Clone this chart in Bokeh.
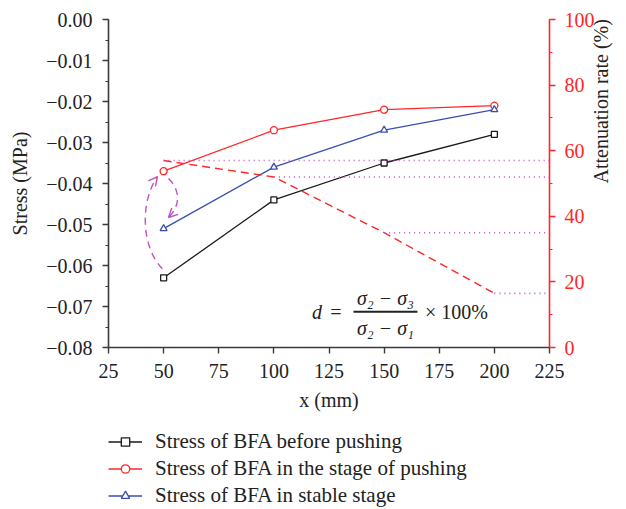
import math
from bokeh.plotting import figure
from bokeh.layouts import column
from bokeh.models import (Range1d, LinearAxis, SingleIntervalTicker, CustomJSTickFormatter,
                          Legend, LegendItem, Label, Arrow, OpenHead, BoxAnnotation)
from bokeh.embed import file_html
from bokeh.resources import INLINE

# ---- data ----
x_mm = [50, 100, 150, 200]
stress_before = [-0.063, -0.044, -0.035, -0.028]
stress_pushing = [-0.037, -0.027, -0.022, -0.021]
stress_stable = [-0.051, -0.036, -0.027, -0.022]
attenuation = [57.0, 52.0, 35.0, 16.5]
series_labels = ["Stress of BFA before pushing",
                 "Stress of BFA in the stage of pushing",
                 "Stress of BFA in stable stage"]

FONT = "Liberation Serif"
FS = "20px"
BLACK = "#1a1a1a"
RED = "#ff2626"
BLUE = "#3b4fb0"
MAG = "#c24fc2"
AXC = "#3a3a3a"

X0, X1 = 25, 225
p = figure(width=626, height=420, output_backend="svg", toolbar_location=None,
           x_range=Range1d(X0, X1), y_range=Range1d(-0.08, 0.0),
           min_border_left=108, min_border_right=77, min_border_top=19,
           min_border_bottom=73)
p.extra_y_ranges = {"att": Range1d(0, 100)}
p.grid.visible = False
p.outline_line_color = None
p.background_fill_color = "white"

def style_axis(ax, color, label_color):
    ax.axis_line_color = color
    ax.axis_line_width = 1.6
    ax.major_tick_line_color = color
    ax.minor_tick_line_color = color
    ax.major_tick_line_width = 1.4
    ax.minor_tick_line_width = 1.2
    ax.major_tick_out = 6
    ax.major_tick_in = 0
    ax.minor_tick_out = 3
    ax.minor_tick_in = 0
    ax.major_label_text_font = FONT
    ax.major_label_text_font_size = FS
    ax.major_label_text_color = label_color
    ax.axis_label_text_font = FONT
    ax.axis_label_text_font_size = FS
    ax.axis_label_text_font_style = "normal"
    ax.axis_label_text_color = "#222222"
    ax.major_label_standoff = 10

xa = p.xaxis[0]
xa.ticker = SingleIntervalTicker(interval=25, num_minor_ticks=0)
xa.axis_label = "x (mm)"
style_axis(xa, AXC, "#222222")
xa.axis_label_standoff = 8

ya = p.yaxis[0]
ya.ticker = SingleIntervalTicker(interval=0.01, num_minor_ticks=2)
ya.formatter = CustomJSTickFormatter(code="""
    const v = Math.round(tick*100)/100;
    if (Math.abs(v) < 1e-9) return "0.00";
    return (v < 0 ? "\u2212" : "") + Math.abs(v).toFixed(2);
""")
ya.axis_label = "Stress (MPa)"
style_axis(ya, AXC, "#222222")
ya.axis_label_standoff = 12

ra = LinearAxis(y_range_name="att", ticker=SingleIntervalTicker(interval=20, num_minor_ticks=2),
                axis_label="Attenuation rate (%)")
style_axis(ra, RED, RED)
ra.major_label_standoff = 9
ra.axis_label_standoff = 3
ra.axis_label_orientation = math.pi / 2
p.add_layout(ra, "right")

# ---- series ----
def draw_series(fig, ys, color, marker, size):
    rl = fig.line(x_mm, ys, line_color=color, line_width=1.3)
    rm = fig.scatter(x_mm, ys, marker=marker, size=size, line_color=color,
                     fill_color="white", line_width=1.3)
    return [rl, rm]

series = [(stress_before, BLACK, "square", 6),
          (stress_pushing, RED, "circle", 7),
          (stress_stable, BLUE, "triangle", 7)]
for ys, c, m, s in series:
    draw_series(p, ys, c, m, s)

# attenuation curve (right axis) and dotted guides to the right axis
p.line(x_mm, attenuation, y_range_name="att", line_color=RED, line_width=1.4,
       line_dash="8 5")
p.segment(x0=x_mm, y0=attenuation, x1=[X1] * len(x_mm), y1=attenuation,
          y_range_name="att", line_color=MAG, line_width=1.6, line_dash="1 4")

# ---- curved dashed arrows (annotation) ----
xb = x_mm[0]
yb, yp, ys = stress_before[0], stress_pushing[0], stress_stable[0]
p.bezier(x0=[xb - 0.6, xb + 2.2], y0=[yb + 0.0022, yp - 0.0018],
         x1=[xb - 2.8, xb + 2.2], y1=[yp - 0.0013, ys + 0.0027],
         cx0=[xb - 10.5, xb + 7.7], cy0=[yb + 0.0078, yp - 0.0047],
         cx1=[xb - 10.5, xb + 7.7], cy1=[yp - 0.0072, ys + 0.0056],
         line_color=MAG, line_width=1.4, line_dash="7 5")
for (xs_, ys_, xe_, ye_) in [(xb - 6.0, yp - 0.0035, xb - 2.8, yp - 0.0013),
                             (xb + 6.0, ys + 0.0047, xb + 2.2, ys + 0.0027)]:
    p.add_layout(Arrow(x_start=xs_, y_start=ys_, x_end=xe_, y_end=ye_,
                       line_alpha=0,
                       end=OpenHead(size=9, line_color=MAG, line_width=1.4)))

# ---- formula ----
yf = -0.0713
common = dict(text_font=FONT, text_font_size="20px", text_color="#222222",
              text_baseline="middle")
p.add_layout(Label(x=117.3, y=yf, text="d", text_font_style="italic", **common))
p.add_layout(Label(x=125.6, y=yf, text="=", **common))
p.add_layout(Label(x=150.6, y=yf + 0.0034, text="σ₂ − σ₃", text_align="center",
                   text_font_style="italic", **common))
p.add_layout(BoxAnnotation(left=136.1, right=165.1, top=yf + 0.00025, bottom=yf - 0.00025,
                           fill_color="#222222", fill_alpha=1, line_color=None))
p.add_layout(Label(x=150.6, y=yf - 0.0040, text="σ₂ − σ₁", text_align="center",
                   text_font_style="italic", **common))
p.add_layout(Label(x=168.5, y=yf, text="× 100%", **common))

# ---- legend strip below the chart (its frame aligns with the chart frame) ----
leg = figure(width=626, height=89, output_backend="svg", toolbar_location=None,
             x_range=Range1d(1000, 1001), y_range=Range1d(1000, 1001),
             x_axis_location=None, y_axis_location=None,
             min_border=0, min_border_left=0, min_border_right=0,
             min_border_top=0, min_border_bottom=0)
leg.grid.visible = False
leg.outline_line_color = None
items = []
for lab, (ys, c, m, s) in zip(series_labels, series):
    items.append(LegendItem(label=lab, renderers=draw_series(leg, ys, c, m, s)))
legend = Legend(items=items, location=(0, 1), orientation="vertical",
                label_text_font=FONT, label_text_font_size="21px", label_text_color="#222222",
                glyph_width=34, glyph_height=21, label_height=21, spacing=2,
                label_standoff=13, padding=0, margin=0,
                border_line_color=None, background_fill_alpha=0)
leg.add_layout(legend, "center")

layout = column(p, leg, spacing=0)
open("out.html", "w").write(file_html(layout, INLINE))
